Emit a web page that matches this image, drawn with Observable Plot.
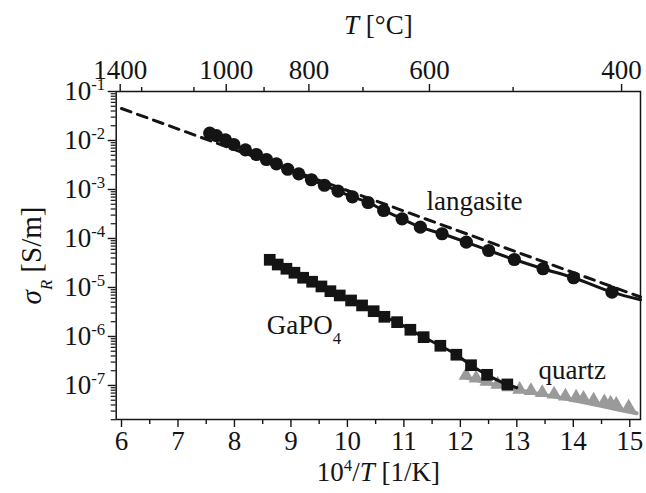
<!DOCTYPE html>
<html>
<head>
<meta charset="utf-8">
<script src="https://cdn.jsdelivr.net/npm/d3@7"></script>
<script src="https://cdn.jsdelivr.net/npm/@observablehq/plot@0.6"></script>
<style>
  body { margin: 0; background: #fff; }
  svg { font-family: "Liberation Serif", "DejaVu Serif", serif; }
</style>
</head>
<body>
<div id="chart"></div>
<script>
// Electrical conductivity sigma_R (S/m) against inverse temperature 10^4/T (1/K)

// langasite, measured points
const langasiteX = [7.563, 7.681, 7.841, 7.988, 8.195, 8.389, 8.566, 8.743, 8.943, 9.138,
                    9.363, 9.593, 9.835, 10.088, 10.366, 10.642, 10.968, 11.292, 11.676, 12.106,
                    12.501, 12.956, 13.464, 14.005, 14.685];
const langasiteS = [1.41e-2, 1.26e-2, 1.03e-2, 8.29e-3, 6.45e-3, 5.18e-3, 4.09e-3, 3.34e-3, 2.59e-3, 2.09e-3,
                    1.58e-3, 1.22e-3, 9.23e-4, 7.10e-4, 5.43e-4, 3.73e-4, 2.52e-4, 1.70e-4, 1.25e-4, 8.40e-5,
                    5.68e-5, 3.72e-5, 2.41e-5, 1.58e-5, 8.02e-6];
// langasite model curve continued to the edge, and the dashed literature line
const langasiteTailX = [15.19];
const langasiteTailS = [5.6e-6];
const langasiteRefX = [6.0, 15.19];
const langasiteRefS = [4.5e-2, 6.4e-6];

// GaPO4, measured points
const gapoX = [8.625, 8.766, 8.920, 9.062, 9.216, 9.375, 9.540, 9.699, 9.864, 10.065,
               10.260, 10.465, 10.655, 10.880, 11.115, 11.350, 11.646, 11.929, 12.189, 12.473, 12.832];
const gapoS = [3.67e-5, 2.94e-5, 2.41e-5, 2.00e-5, 1.58e-5, 1.31e-5, 1.05e-5, 8.40e-6, 6.87e-6, 5.43e-6,
               4.30e-6, 3.28e-6, 2.52e-6, 1.96e-6, 1.37e-6, 9.68e-7, 6.46e-7, 4.24e-7, 2.59e-7, 1.65e-7, 1.05e-7];
const gapoTailX = [13.0];
const gapoTailS = [9.0e-8];

// quartz, measured points and model curve
const quartzX = [12.10, 12.28, 12.47, 12.66, 12.86, 13.05, 13.25, 13.45, 13.66, 13.86,
                 14.05, 14.18, 14.36, 14.55, 14.66, 14.76, 14.98];
const quartzS = [1.6e-7, 1.4e-7, 1.2e-7, 1.05e-7, 9.3e-8, 8.3e-8, 7.8e-8, 7.1e-8, 6.6e-8, 6.0e-8,
                 5.7e-8, 5.4e-8, 5.0e-8, 4.6e-8, 4.3e-8, 4.1e-8, 3.6e-8];
const quartzFitX = [12.05, 13.0, 14.0, 15.12];
const quartzFitS = [1.5e-7, 8.2e-8, 5.0e-8, 2.7e-8];

// in-plot series labels
const labelText = ["langasite", "GaPO_{4}", "quartz"];
const labelX = [12.25, 9.23, 13.98];
const labelS = [5.7e-4, 1.7e-6, 2.0e-7];

// axis ticks
const xMajor = [6, 7, 8, 9, 10, 11, 12, 13, 14, 15];
const xMinor = [6.5, 7.5, 8.5, 9.5, 10.5, 11.5, 12.5, 13.5, 14.5];
const yMajor = [1e-1, 1e-2, 1e-3, 1e-4, 1e-5, 1e-6, 1e-7];
const topMajorC = [1400, 1000, 800, 600, 400];
const topMinorC = [1300, 1100, 900, 700, 500];

const rows = (xs, ys) => xs.map((x, i) => ({x, s: ys[i]}));
const langasite = rows(langasiteX, langasiteS);
const langasiteCurve = langasite.concat(rows(langasiteTailX, langasiteTailS));
const langasiteRef = rows(langasiteRefX, langasiteRefS);
const gapo = rows(gapoX, gapoS);
const gapoCurve = gapo.concat(rows(gapoTailX, gapoTailS));
const quartz = rows(quartzX, quartzS);
const quartzCurve = rows(quartzFitX, quartzFitS);
const labels = labelText.map((t, i) => ({t, x: labelX[i], s: labelS[i]}));

// Celsius -> 10^4/T with T in kelvin
const inv = c => 1e4 / (c + 273.15);
const yMinor = [];
for (let e = -8; e <= -2; e++) for (let m = 2; m <= 9; m++) {
  const v = m * Math.pow(10, e);
  if (v >= 2.0e-8 && v <= 0.1) yMinor.push(v);
}

const FS = 27;
const black = "#141414";
const grey = "#9a9a9a";

const chart = Plot.plot({
  width: 646,
  height: 493,
  marginLeft: 115.7,
  marginRight: 6,
  marginTop: 91,
  marginBottom: 74,
  style: {fontSize: FS + "px", fontFamily: "Liberation Serif, serif", color: black, background: "#fff"},
  x: {domain: [5.906, 15.19]},
  y: {type: "log", domain: [2.02e-8, 0.1]},
  marks: [
    // axes
    Plot.axisX({ticks: xMajor, tickSize: 8, tickPadding: 3, strokeWidth: 1.4, label: null, tickFormat: d => String(d)}),
    Plot.axisX({ticks: xMinor, tickSize: 5, strokeWidth: 1.4, label: null, tickFormat: () => ""}),
    Plot.axisX({anchor: "top", ticks: topMajorC.map(inv), tickSize: 8, tickPadding: 5, strokeWidth: 1.4, label: null,
                tickFormat: d => String(Math.round(1e4 / d - 273.15))}),
    Plot.axisX({anchor: "top", ticks: topMinorC.map(inv), tickSize: 5, strokeWidth: 1.4, label: null, tickFormat: () => ""}),
    Plot.axisY({ticks: yMajor, tickSize: 8, tickPadding: 3, strokeWidth: 1.4, label: null,
                tickFormat: d => "10^{" + Math.round(Math.log10(d)) + "}"}),
    Plot.axisY({ticks: yMinor, tickSize: 5, strokeWidth: 1.2, label: null, tickFormat: () => ""}),
    Plot.frame({stroke: black, strokeWidth: 1.5}),

    // axis titles
    Plot.text(["10^{4}/*T* [1/K]"], {frameAnchor: "bottom", lineAnchor: "middle", dy: 53, fontSize: FS}),
    Plot.text(["*T* [°C]"], {frameAnchor: "top", lineAnchor: "middle", dy: -66, fontSize: FS}),
    Plot.text(["*σ*_{*R*} [S/m]"], {frameAnchor: "left", textAnchor: "middle", lineAnchor: "middle",
                                    dx: -84, rotate: -90, fontSize: 29}),

    // langasite
    Plot.line(langasiteRef, {x: "x", y: "s", stroke: black, strokeWidth: 3, strokeDasharray: "10,7"}),
    Plot.line(langasiteCurve, {x: "x", y: "s", stroke: black, strokeWidth: 3, curve: "monotone-x"}),
    Plot.dot(langasite, {x: "x", y: "s", r: 6.6, fill: black, stroke: "none"}),

    // quartz
    Plot.line(quartzCurve, {x: "x", y: "s", stroke: grey, strokeWidth: 4, curve: "monotone-x"}),
    Plot.dot(quartz, {x: "x", y: "s", symbol: "triangle", r: 5.5, fill: grey, stroke: "none"}),

    // GaPO4
    Plot.line(gapoCurve, {x: "x", y: "s", stroke: black, strokeWidth: 3, curve: "monotone-x"}),
    Plot.dot(gapo, {x: "x", y: "s", symbol: "square", r: 6.6, fill: black, stroke: "none"}),

    // labels
    Plot.text(labels, {x: "x", y: "s", text: "t", fontSize: FS, fill: black})
  ]
});

// Rich text: ^{..} superscript, _{..} subscript, *..* italic
const NS = "http://www.w3.org/2000/svg";
function richText(node) {
  const src = node.textContent;
  if (!/[\^_*]/.test(src)) return;
  const f = parseFloat(getComputedStyle(node).fontSize) || FS;
  node.textContent = "";
  let shift = 0;
  const add = (txt, opts) => {
    const t = document.createElementNS(NS, "tspan");
    t.textContent = txt;
    const target = opts.shift || 0;
    const dy = target - shift;
    if (dy) t.setAttribute("dy", dy);
    shift = target;
    if (opts.size) t.setAttribute("font-size", opts.size);
    if (opts.italic) t.setAttribute("font-style", "italic");
    node.appendChild(t);
  };
  const re = /\^\{([^}]*)\}|_\{([^}]*)\}|\*([^*]*)\*|([^\^_*]+)/g;
  let m;
  while ((m = re.exec(src))) {
    if (m[1] != null) {
      add(m[1], {shift: -0.36 * f, size: 0.62 * f});
    } else if (m[2] != null) {
      const inner = m[2];
      const it = /^\*(.*)\*$/.exec(inner);
      add(it ? it[1] : inner, {shift: 0.38 * f, size: 0.62 * f, italic: !!it});
    } else if (m[3] != null) {
      add(m[3], {shift: 0, italic: true});
    } else {
      add(m[4], {shift: 0});
    }
  }
}
chart.querySelectorAll("text").forEach(richText);

document.getElementById("chart").appendChild(chart);
</script>
</body>
</html>
